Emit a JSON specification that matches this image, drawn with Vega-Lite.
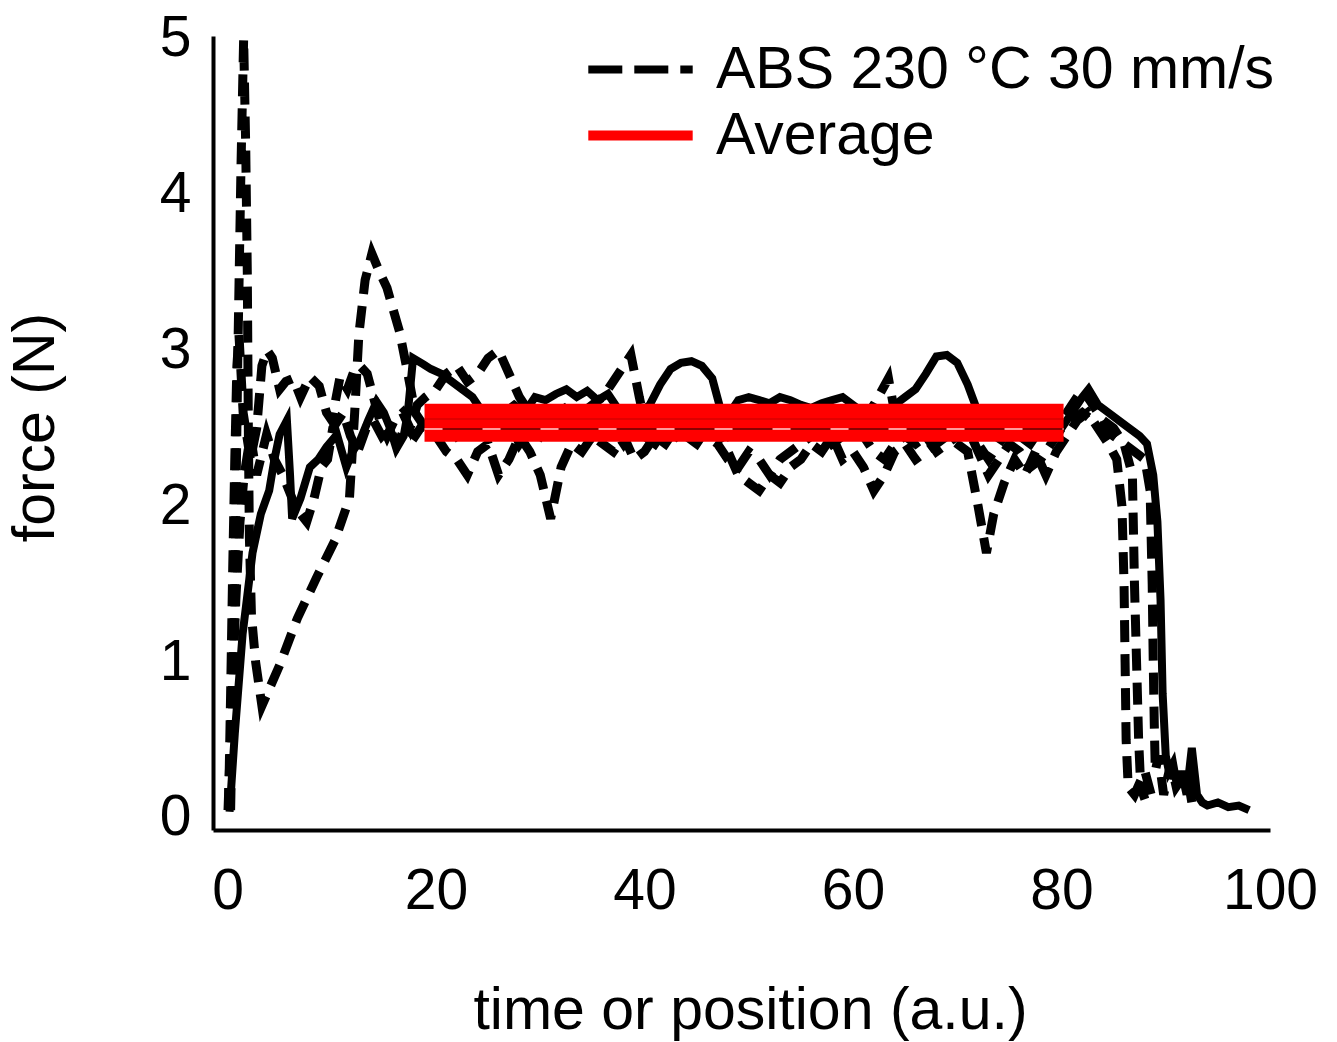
{
  "$schema": "https://vega.github.io/schema/vega-lite/v6.json",
  "width": 1057,
  "height": 794,
  "autosize": {"type": "none"},
  "padding": {"left": 213, "top": 36, "right": 67, "bottom": 212},
  "background": "white",
  "config": {
    "view": {"stroke": null},
    "font": "Liberation Sans",
    "axis": {"grid": false, "ticks": false, "tickSize": 0, "domainColor": "black", "domainWidth": 4, "labelColor": "black", "titleColor": "black", "labelFontSize": 57, "titleFontSize": 59, "titleFontWeight": "normal", "labelFont": "Liberation Sans", "titleFont": "Liberation Sans"}
  },
  "datasets": {
    "dashed": [
      {"run": "D1", "x": 0.3, "y": 0.05}, {"run": "D1", "x": 0.7, "y": 1.5}, {"run": "D1", "x": 1.0, "y": 3.0}, {"run": "D1", "x": 1.3, "y": 4.2}, {"run": "D1", "x": 1.55, "y": 5.0}, {"run": "D1", "x": 1.75, "y": 4.3}, {"run": "D1", "x": 1.9, "y": 3.5}, {"run": "D1", "x": 2.0, "y": 2.5}, {"run": "D1", "x": 2.1, "y": 1.8}, {"run": "D1", "x": 2.3, "y": 1.3}, {"run": "D1", "x": 2.7, "y": 1.0}, {"run": "D1", "x": 3.3, "y": 0.72},
      {"run": "D1", "x": 5.0, "y": 0.98}, {"run": "D1", "x": 6.7, "y": 1.28}, {"run": "D1", "x": 8.6, "y": 1.55}, {"run": "D1", "x": 10.3, "y": 1.78}, {"run": "D1", "x": 11.7, "y": 2.05}, {"run": "D1", "x": 12.2, "y": 2.6}, {"run": "D1", "x": 12.6, "y": 3.1}, {"run": "D1", "x": 13.2, "y": 3.45}, {"run": "D1", "x": 13.85, "y": 3.62}, {"run": "D1", "x": 14.6, "y": 3.5}, {"run": "D1", "x": 15.3, "y": 3.4}, {"run": "D1", "x": 16.5, "y": 3.12}, {"run": "D1", "x": 17.3, "y": 2.85}, {"run": "D1", "x": 18, "y": 2.6}, {"run": "D1", "x": 19, "y": 2.5},
      {"run": "D1", "x": 20, "y": 2.45}, {"run": "D1", "x": 21, "y": 2.35}, {"run": "D1", "x": 22, "y": 2.3}, {"run": "D1", "x": 23, "y": 2.2}, {"run": "D1", "x": 24, "y": 2.35}, {"run": "D1", "x": 25, "y": 2.4}, {"run": "D1", "x": 26, "y": 2.2}, {"run": "D1", "x": 27, "y": 2.3}, {"run": "D1", "x": 28, "y": 2.45}, {"run": "D1", "x": 29, "y": 2.35}, {"run": "D1", "x": 30, "y": 2.2}, {"run": "D1", "x": 31, "y": 1.92}, {"run": "D1", "x": 32, "y": 2.25}, {"run": "D1", "x": 33, "y": 2.4}, {"run": "D1", "x": 34, "y": 2.35}, {"run": "D1", "x": 35, "y": 2.45}, {"run": "D1", "x": 36, "y": 2.4}, {"run": "D1", "x": 37, "y": 2.35}, {"run": "D1", "x": 38, "y": 2.45}, {"run": "D1", "x": 39, "y": 2.3}, {"run": "D1", "x": 40, "y": 2.35}, {"run": "D1", "x": 41, "y": 2.45}, {"run": "D1", "x": 42, "y": 2.4}, {"run": "D1", "x": 43, "y": 2.5}, {"run": "D1", "x": 44, "y": 2.45}, {"run": "D1", "x": 45, "y": 2.4}, {"run": "D1", "x": 46, "y": 2.5}, {"run": "D1", "x": 47, "y": 2.45}, {"run": "D1", "x": 48, "y": 2.35}, {"run": "D1", "x": 49, "y": 2.2}, {"run": "D1", "x": 50, "y": 2.15}, {"run": "D1", "x": 51, "y": 2.1}, {"run": "D1", "x": 52, "y": 2.2}, {"run": "D1", "x": 53, "y": 2.15}, {"run": "D1", "x": 54, "y": 2.25}, {"run": "D1", "x": 55, "y": 2.3}, {"run": "D1", "x": 56, "y": 2.4}, {"run": "D1", "x": 57, "y": 2.35}, {"run": "D1", "x": 58, "y": 2.45}, {"run": "D1", "x": 59, "y": 2.3}, {"run": "D1", "x": 60, "y": 2.35}, {"run": "D1", "x": 61, "y": 2.25}, {"run": "D1", "x": 62, "y": 2.1}, {"run": "D1", "x": 63, "y": 2.2}, {"run": "D1", "x": 64, "y": 2.35}, {"run": "D1", "x": 65, "y": 2.4}, {"run": "D1", "x": 66, "y": 2.3}, {"run": "D1", "x": 67, "y": 2.35}, {"run": "D1", "x": 68, "y": 2.4}, {"run": "D1", "x": 69, "y": 2.45}, {"run": "D1", "x": 70, "y": 2.4}, {"run": "D1", "x": 71, "y": 2.35}, {"run": "D1", "x": 72, "y": 2.0}, {"run": "D1", "x": 72.8, "y": 1.7}, {"run": "D1", "x": 73.5, "y": 1.95}, {"run": "D1", "x": 74.5, "y": 2.15}, {"run": "D1", "x": 75.5, "y": 2.3}, {"run": "D1", "x": 76.5, "y": 2.2}, {"run": "D1", "x": 77.5, "y": 2.35}, {"run": "D1", "x": 78.5, "y": 2.2}, {"run": "D1", "x": 79.5, "y": 2.35}, {"run": "D1", "x": 80.5, "y": 2.45}, {"run": "D1", "x": 81.5, "y": 2.55}, {"run": "D1", "x": 82.5, "y": 2.6}, {"run": "D1", "x": 83.5, "y": 2.5}, {"run": "D1", "x": 84.5, "y": 2.4}, {"run": "D1", "x": 85.3, "y": 2.3}, {"run": "D1", "x": 85.8, "y": 2.0}, {"run": "D1", "x": 86.0, "y": 1.5}, {"run": "D1", "x": 86.1, "y": 1.0}, {"run": "D1", "x": 86.2, "y": 0.5}, {"run": "D1", "x": 86.4, "y": 0.2}, {"run": "D1", "x": 87.0, "y": 0.15}, {"run": "D1", "x": 88.0, "y": 0.3}, {"run": "D1", "x": 88.8, "y": 0.1},
      {"run": "D2", "x": 0.1, "y": 0.05}, {"run": "D2", "x": 0.3, "y": 0.8}, {"run": "D2", "x": 0.5, "y": 1.6}, {"run": "D2", "x": 0.7, "y": 2.3}, {"run": "D2", "x": 0.9, "y": 2.9}, {"run": "D2", "x": 1.1, "y": 3.1}, {"run": "D2", "x": 1.5, "y": 2.6}, {"run": "D2", "x": 2.2, "y": 2.3}, {"run": "D2", "x": 2.8, "y": 2.5}, {"run": "D2", "x": 3.3, "y": 2.9}, {"run": "D2", "x": 3.8, "y": 3.0}, {"run": "D2", "x": 4.3, "y": 2.95}, {"run": "D2", "x": 5.0, "y": 2.75}, {"run": "D2", "x": 5.6, "y": 2.8}, {"run": "D2", "x": 6.3, "y": 2.82}, {"run": "D2", "x": 7.0, "y": 2.7}, {"run": "D2", "x": 7.9, "y": 2.83}, {"run": "D2", "x": 8.8, "y": 2.77}, {"run": "D2", "x": 9.5, "y": 2.6}, {"run": "D2", "x": 10.0, "y": 2.55}, {"run": "D2", "x": 10.8, "y": 2.83}, {"run": "D2", "x": 11.5, "y": 2.75}, {"run": "D2", "x": 12.2, "y": 2.88}, {"run": "D2", "x": 12.7, "y": 2.9}, {"run": "D2", "x": 13.4, "y": 2.85}, {"run": "D2", "x": 14.0, "y": 2.7}, {"run": "D2", "x": 14.6, "y": 2.55}, {"run": "D2", "x": 15.3, "y": 2.45}, {"run": "D2", "x": 16.0, "y": 2.55}, {"run": "D2", "x": 16.8, "y": 2.6}, {"run": "D2", "x": 17.5, "y": 2.5}, {"run": "D2", "x": 18.2, "y": 2.65}, {"run": "D2", "x": 19.0, "y": 2.7},
      {"run": "D2", "x": 20, "y": 2.75}, {"run": "D2", "x": 21, "y": 2.85}, {"run": "D2", "x": 22, "y": 2.9}, {"run": "D2", "x": 23, "y": 2.8}, {"run": "D2", "x": 24, "y": 2.85}, {"run": "D2", "x": 25, "y": 2.95}, {"run": "D2", "x": 26, "y": 3.0}, {"run": "D2", "x": 27, "y": 2.85}, {"run": "D2", "x": 28, "y": 2.7}, {"run": "D2", "x": 29, "y": 2.6}, {"run": "D2", "x": 30, "y": 2.55}, {"run": "D2", "x": 31, "y": 2.6}, {"run": "D2", "x": 32, "y": 2.65}, {"run": "D2", "x": 33, "y": 2.55}, {"run": "D2", "x": 34, "y": 2.6}, {"run": "D2", "x": 35, "y": 2.65}, {"run": "D2", "x": 36, "y": 2.7}, {"run": "D2", "x": 37, "y": 2.8}, {"run": "D2", "x": 38, "y": 2.9}, {"run": "D2", "x": 38.7, "y": 2.97}, {"run": "D2", "x": 39.5, "y": 2.7}, {"run": "D2", "x": 40, "y": 2.55}, {"run": "D2", "x": 41, "y": 2.5}, {"run": "D2", "x": 42, "y": 2.6}, {"run": "D2", "x": 43, "y": 2.55}, {"run": "D2", "x": 44, "y": 2.5}, {"run": "D2", "x": 45, "y": 2.55}, {"run": "D2", "x": 46, "y": 2.6}, {"run": "D2", "x": 47, "y": 2.5}, {"run": "D2", "x": 48, "y": 2.45}, {"run": "D2", "x": 49, "y": 2.5}, {"run": "D2", "x": 50, "y": 2.55}, {"run": "D2", "x": 51, "y": 2.6}, {"run": "D2", "x": 52, "y": 2.5}, {"run": "D2", "x": 53, "y": 2.55}, {"run": "D2", "x": 54, "y": 2.6}, {"run": "D2", "x": 55, "y": 2.5}, {"run": "D2", "x": 56, "y": 2.55}, {"run": "D2", "x": 57, "y": 2.6}, {"run": "D2", "x": 58, "y": 2.5}, {"run": "D2", "x": 59, "y": 2.55}, {"run": "D2", "x": 60, "y": 2.6}, {"run": "D2", "x": 61, "y": 2.55}, {"run": "D2", "x": 62, "y": 2.65}, {"run": "D2", "x": 63.4, "y": 2.82}, {"run": "D2", "x": 64, "y": 2.6}, {"run": "D2", "x": 65, "y": 2.5}, {"run": "D2", "x": 66, "y": 2.55}, {"run": "D2", "x": 67, "y": 2.6}, {"run": "D2", "x": 68, "y": 2.55}, {"run": "D2", "x": 69, "y": 2.5}, {"run": "D2", "x": 70, "y": 2.45}, {"run": "D2", "x": 71, "y": 2.5}, {"run": "D2", "x": 72, "y": 2.4}, {"run": "D2", "x": 73, "y": 2.3}, {"run": "D2", "x": 74, "y": 2.4}, {"run": "D2", "x": 75, "y": 2.5}, {"run": "D2", "x": 76, "y": 2.45}, {"run": "D2", "x": 77, "y": 2.4}, {"run": "D2", "x": 78, "y": 2.5}, {"run": "D2", "x": 79, "y": 2.45}, {"run": "D2", "x": 80, "y": 2.55}, {"run": "D2", "x": 81, "y": 2.65}, {"run": "D2", "x": 82, "y": 2.75}, {"run": "D2", "x": 83, "y": 2.65}, {"run": "D2", "x": 84, "y": 2.55}, {"run": "D2", "x": 85, "y": 2.5}, {"run": "D2", "x": 86, "y": 2.4}, {"run": "D2", "x": 86.8, "y": 2.2}, {"run": "D2", "x": 87.0, "y": 1.5}, {"run": "D2", "x": 87.2, "y": 1.0}, {"run": "D2", "x": 87.4, "y": 0.5}, {"run": "D2", "x": 87.6, "y": 0.2}, {"run": "D2", "x": 88.0, "y": 0.12},
      {"run": "D3", "x": 0.05, "y": 0.05}, {"run": "D3", "x": 0.4, "y": 0.7}, {"run": "D3", "x": 0.8, "y": 1.4}, {"run": "D3", "x": 1.2, "y": 1.9}, {"run": "D3", "x": 1.6, "y": 2.2}, {"run": "D3", "x": 2.2, "y": 2.45}, {"run": "D3", "x": 2.8, "y": 2.2}, {"run": "D3", "x": 3.75, "y": 2.46}, {"run": "D3", "x": 4.5, "y": 2.3}, {"run": "D3", "x": 5.3, "y": 2.2}, {"run": "D3", "x": 6.2, "y": 2.05}, {"run": "D3", "x": 7.0, "y": 1.95}, {"run": "D3", "x": 7.6, "y": 1.9}, {"run": "D3", "x": 8.3, "y": 2.05}, {"run": "D3", "x": 9.0, "y": 2.25}, {"run": "D3", "x": 9.6, "y": 2.3}, {"run": "D3", "x": 10.1, "y": 2.5}, {"run": "D3", "x": 11.1, "y": 2.6}, {"run": "D3", "x": 11.8, "y": 2.45}, {"run": "D3", "x": 12.5, "y": 2.35}, {"run": "D3", "x": 13.3, "y": 2.5}, {"run": "D3", "x": 14.0, "y": 2.55}, {"run": "D3", "x": 14.8, "y": 2.45}, {"run": "D3", "x": 15.5, "y": 2.5}, {"run": "D3", "x": 16.3, "y": 2.4}, {"run": "D3", "x": 17.0, "y": 2.5}, {"run": "D3", "x": 18.0, "y": 2.45}, {"run": "D3", "x": 19.0, "y": 2.55},
      {"run": "D3", "x": 20, "y": 2.5}, {"run": "D3", "x": 21, "y": 2.55}, {"run": "D3", "x": 22, "y": 2.45}, {"run": "D3", "x": 23, "y": 2.5}, {"run": "D3", "x": 24, "y": 2.6}, {"run": "D3", "x": 25, "y": 2.45}, {"run": "D3", "x": 26, "y": 2.5}, {"run": "D3", "x": 27, "y": 2.55}, {"run": "D3", "x": 28, "y": 2.4}, {"run": "D3", "x": 29, "y": 2.5}, {"run": "D3", "x": 30, "y": 2.45}, {"run": "D3", "x": 31, "y": 2.55}, {"run": "D3", "x": 32, "y": 2.5}, {"run": "D3", "x": 33, "y": 2.6}, {"run": "D3", "x": 34, "y": 2.5}, {"run": "D3", "x": 35, "y": 2.45}, {"run": "D3", "x": 36, "y": 2.55}, {"run": "D3", "x": 37, "y": 2.5}, {"run": "D3", "x": 38, "y": 2.4}, {"run": "D3", "x": 39, "y": 2.5}, {"run": "D3", "x": 40, "y": 2.45}, {"run": "D3", "x": 41, "y": 2.4}, {"run": "D3", "x": 42, "y": 2.5}, {"run": "D3", "x": 43, "y": 2.45}, {"run": "D3", "x": 44, "y": 2.55}, {"run": "D3", "x": 45, "y": 2.5}, {"run": "D3", "x": 46, "y": 2.45}, {"run": "D3", "x": 47, "y": 2.4}, {"run": "D3", "x": 48, "y": 2.3}, {"run": "D3", "x": 49, "y": 2.25}, {"run": "D3", "x": 50, "y": 2.35}, {"run": "D3", "x": 51, "y": 2.3}, {"run": "D3", "x": 52, "y": 2.2}, {"run": "D3", "x": 53, "y": 2.3}, {"run": "D3", "x": 54, "y": 2.35}, {"run": "D3", "x": 55, "y": 2.4}, {"run": "D3", "x": 56, "y": 2.45}, {"run": "D3", "x": 57, "y": 2.5}, {"run": "D3", "x": 58, "y": 2.4}, {"run": "D3", "x": 59, "y": 2.45}, {"run": "D3", "x": 60, "y": 2.5}, {"run": "D3", "x": 61, "y": 2.45}, {"run": "D3", "x": 62, "y": 2.35}, {"run": "D3", "x": 63, "y": 2.3}, {"run": "D3", "x": 64, "y": 2.4}, {"run": "D3", "x": 65, "y": 2.45}, {"run": "D3", "x": 66, "y": 2.4}, {"run": "D3", "x": 67, "y": 2.45}, {"run": "D3", "x": 68, "y": 2.35}, {"run": "D3", "x": 69, "y": 2.4}, {"run": "D3", "x": 70, "y": 2.45}, {"run": "D3", "x": 71, "y": 2.5}, {"run": "D3", "x": 72, "y": 2.35}, {"run": "D3", "x": 73, "y": 2.2}, {"run": "D3", "x": 74, "y": 2.3}, {"run": "D3", "x": 75, "y": 2.4}, {"run": "D3", "x": 76, "y": 2.35}, {"run": "D3", "x": 77, "y": 2.25}, {"run": "D3", "x": 78, "y": 2.3}, {"run": "D3", "x": 79, "y": 2.4}, {"run": "D3", "x": 80, "y": 2.5}, {"run": "D3", "x": 81, "y": 2.55}, {"run": "D3", "x": 82, "y": 2.6}, {"run": "D3", "x": 83, "y": 2.55}, {"run": "D3", "x": 84, "y": 2.5}, {"run": "D3", "x": 85, "y": 2.45}, {"run": "D3", "x": 86, "y": 2.4}, {"run": "D3", "x": 87, "y": 2.35}, {"run": "D3", "x": 88, "y": 2.3}, {"run": "D3", "x": 88.5, "y": 2.1}, {"run": "D3", "x": 88.7, "y": 1.5}, {"run": "D3", "x": 88.8, "y": 1.0}, {"run": "D3", "x": 88.9, "y": 0.6}, {"run": "D3", "x": 89.0, "y": 0.3}, {"run": "D3", "x": 89.3, "y": 0.4}, {"run": "D3", "x": 89.8, "y": 0.15}, {"run": "D3", "x": 90.5, "y": 0.35}, {"run": "D3", "x": 91.0, "y": 0.2}, {"run": "D3", "x": 92.0, "y": 0.3}, {"run": "D3", "x": 92.5, "y": 0.1}, {"run": "D3", "x": 93.0, "y": 0.12}
    ],
    "solid": [
      {"x": 0.2, "y": 0.04}, {"x": 0.7, "y": 0.54}, {"x": 1.45, "y": 1.18}, {"x": 2.4, "y": 1.7}, {"x": 3.2, "y": 1.95}, {"x": 4.0, "y": 2.1}, {"x": 4.5, "y": 2.3}, {"x": 5.0, "y": 2.46}, {"x": 5.7, "y": 2.55}, {"x": 6.0, "y": 2.2}, {"x": 6.2, "y": 1.92}, {"x": 7.0, "y": 2.05}, {"x": 7.9, "y": 2.25}, {"x": 8.7, "y": 2.3}, {"x": 9.5, "y": 2.38}, {"x": 10.5, "y": 2.46}, {"x": 11.4, "y": 2.25}, {"x": 12.0, "y": 2.35}, {"x": 12.7, "y": 2.42}, {"x": 13.5, "y": 2.55}, {"x": 14.3, "y": 2.67}, {"x": 15.0, "y": 2.6}, {"x": 15.6, "y": 2.5}, {"x": 16.2, "y": 2.37}, {"x": 16.9, "y": 2.45}, {"x": 17.3, "y": 2.6}, {"x": 17.8, "y": 2.95}, {"x": 18.8, "y": 2.91}, {"x": 19.5, "y": 2.88}, {"x": 20.5, "y": 2.85}, {"x": 21.5, "y": 2.8}, {"x": 22.5, "y": 2.75},
      {"x": 23.5, "y": 2.7}, {"x": 24.5, "y": 2.6}, {"x": 25.5, "y": 2.55}, {"x": 26.5, "y": 2.6}, {"x": 27.5, "y": 2.65}, {"x": 28.5, "y": 2.6}, {"x": 29.5, "y": 2.7}, {"x": 30.5, "y": 2.68}, {"x": 31.5, "y": 2.72}, {"x": 32.5, "y": 2.75}, {"x": 33.5, "y": 2.7}, {"x": 34.5, "y": 2.74}, {"x": 35.5, "y": 2.68}, {"x": 36.5, "y": 2.72}, {"x": 37.5, "y": 2.62}, {"x": 38.5, "y": 2.56}, {"x": 39.5, "y": 2.6}, {"x": 40.5, "y": 2.65}, {"x": 41.5, "y": 2.78}, {"x": 42.5, "y": 2.88}, {"x": 43.5, "y": 2.92}, {"x": 44.5, "y": 2.93}, {"x": 45.5, "y": 2.9}, {"x": 46.5, "y": 2.82}, {"x": 47.3, "y": 2.62}, {"x": 48, "y": 2.58}, {"x": 49, "y": 2.68}, {"x": 50, "y": 2.7}, {"x": 51, "y": 2.68}, {"x": 52, "y": 2.66}, {"x": 53, "y": 2.7}, {"x": 54, "y": 2.68}, {"x": 55, "y": 2.65}, {"x": 56, "y": 2.63}, {"x": 57, "y": 2.66}, {"x": 58, "y": 2.68}, {"x": 59, "y": 2.7}, {"x": 60, "y": 2.65}, {"x": 61, "y": 2.6}, {"x": 62, "y": 2.56}, {"x": 63, "y": 2.6}, {"x": 64, "y": 2.65}, {"x": 65, "y": 2.7}, {"x": 66, "y": 2.75}, {"x": 67, "y": 2.85}, {"x": 68, "y": 2.96}, {"x": 69, "y": 2.97}, {"x": 70, "y": 2.92}, {"x": 71, "y": 2.78}, {"x": 72, "y": 2.6}, {"x": 73, "y": 2.52}, {"x": 74, "y": 2.5}, {"x": 75, "y": 2.45}, {"x": 76, "y": 2.5}, {"x": 77, "y": 2.45}, {"x": 78, "y": 2.5}, {"x": 79, "y": 2.45}, {"x": 80, "y": 2.5}, {"x": 81, "y": 2.6}, {"x": 82, "y": 2.7}, {"x": 82.6, "y": 2.75}, {"x": 83.5, "y": 2.65}, {"x": 84.5, "y": 2.6}, {"x": 85.5, "y": 2.55}, {"x": 86.5, "y": 2.5}, {"x": 87.5, "y": 2.45}, {"x": 88.2, "y": 2.4}, {"x": 88.8, "y": 2.2}, {"x": 89.2, "y": 1.9}, {"x": 89.5, "y": 1.4}, {"x": 89.7, "y": 0.8}, {"x": 90.0, "y": 0.4}, {"x": 90.3, "y": 0.3}, {"x": 90.7, "y": 0.35}, {"x": 91.1, "y": 0.2}, {"x": 91.5, "y": 0.3}, {"x": 92.0, "y": 0.15}, {"x": 92.5, "y": 0.45}, {"x": 93.0, "y": 0.15}, {"x": 93.5, "y": 0.1}, {"x": 94, "y": 0.08}, {"x": 95, "y": 0.1}, {"x": 96, "y": 0.07}, {"x": 97, "y": 0.08}, {"x": 98, "y": 0.05}
    ],
    "average": [
      {"x": 18.9, "y": 2.535}, {"x": 80.2, "y": 2.535}
    ],
    "avgline": [
      {"x": 18.9, "y": 2.495}, {"x": 80.2, "y": 2.495}
    ],
    "avgline2": [
      {"x": 18.9, "y": 2.56}, {"x": 80.2, "y": 2.56}
    ]
  },
  "encoding": {
    "x": {"field": "x", "type": "quantitative", "scale": {"domain": [-1.39, 100], "nice": false, "zero": false},
      "axis": {"values": [0, 20, 40, 60, 80, 100], "labelPadding": 33, "labelBaseline": "top", "title": "time or position (a.u.)", "titleX": 537, "titleY": 198, "titleBaseline": "alphabetic", "titleAlign": "center", "labelFlush": false, "labelOverlap": false}},
    "y": {"field": "y", "type": "quantitative", "scale": {"domain": [-0.077, 5.016], "nice": false, "zero": false},
      "axis": {"values": [0, 1, 2, 3, 4, 5], "labelPadding": 22, "title": "force (N)", "titleAngle": -90, "titleX": -160, "titleY": 391, "titleBaseline": "alphabetic", "titleAlign": "center", "labelFlush": false, "labelOverlap": false}}
  },
  "layer": [
    {
      "data": {"name": "dashed"},
      "mark": {"type": "line", "strokeWidth": 9, "strokeDash": [22, 12], "strokeCap": "butt", "clip": true, "interpolate": "linear"},
      "encoding": {
        "detail": {"field": "run", "type": "nominal"},
        "color": {"datum": "ABS 230 °C 30 mm/s", "type": "nominal",
          "scale": {"domain": ["ABS 230 °C 30 mm/s", "Average"], "range": ["black", "#ff0000"]},
          "legend": {"orient": "none", "legendX": 398, "legendY": 4, "title": null, "symbolType": "stroke", "symbolSize": 10900, "labelFontSize": 59, "labelFont": "Liberation Sans", "labelColor": "black", "labelOffset": 46, "rowPadding": 6, "padding": 0, "labelLimit": 0, "symbolStrokeWidth": 9,
            "encode": {"symbols": {"update": {
              "strokeDash": {"signal": "datum.value === 'Average' ? [1, 0] : [34, 12]"},
              "strokeWidth": {"signal": "datum.value === 'Average' ? 10 : 8"},
              "stroke": {"signal": "datum.value === 'Average' ? '#ff0000' : 'black'"}
            }}}}
        }
      }
    },
    {
      "data": {"name": "solid"},
      "mark": {"type": "line", "strokeWidth": 8, "color": "black", "clip": true},
      "encoding": {}
    },
    {
      "data": {"name": "average"},
      "mark": {"type": "line", "strokeWidth": 38, "strokeCap": "butt"},
      "encoding": {"color": {"datum": "Average", "type": "nominal"}}
    },
    {
      "data": {"name": "avgline"},
      "mark": {"type": "line", "strokeWidth": 2, "color": "#8b0000", "strokeCap": "butt"},
      "encoding": {}
    },
    {
      "data": {"name": "avgline"},
      "mark": {"type": "line", "strokeWidth": 2, "color": "#ff9a9a", "strokeDash": [18, 40], "strokeCap": "butt"},
      "encoding": {}
    },
    {
      "data": {"name": "avgline2"},
      "mark": {"type": "line", "strokeWidth": 1.5, "color": "#d80000", "strokeCap": "butt"},
      "encoding": {}
    }
  ]
}
